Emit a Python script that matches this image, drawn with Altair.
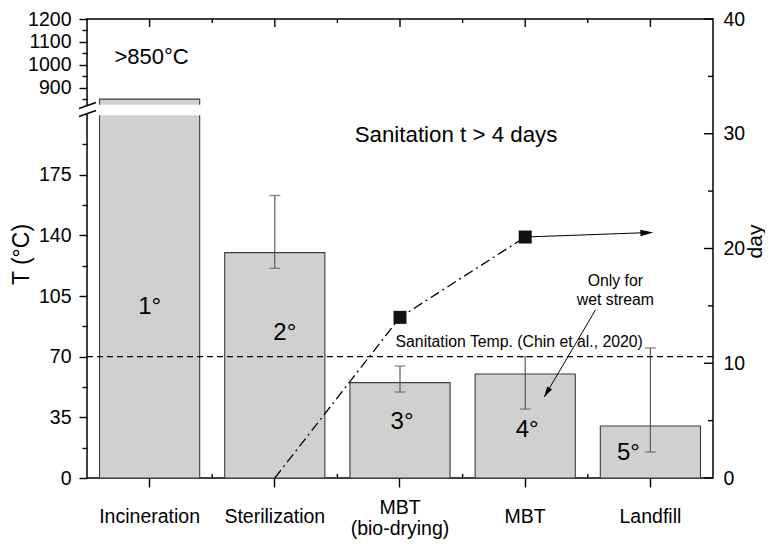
import altair as alt
import pandas as pd

# ---------------- data ----------------
categories = ["Incineration", "Sterilization", "MBT (bio-drying)", "MBT", "Landfill"]
temperature = [850, 130, 55, 60, 30]
err_cats = ["Sterilization", "MBT (bio-drying)", "MBT", "Landfill"]
err_low = [121, 49.6, 39.8, 15]
err_high = [163, 64.6, 70, 75]
rank_labels = ["1°", "2°", "3°", "4°", "5°"]

day_cats = ["Sterilization", "MBT (bio-drying)", "MBT"]
days = [0, 14, 21]
square_cats = ["MBT (bio-drying)", "MBT"]
square_days = [14, 21]
arrow_cats = ["MBT", "Landfill"]
arrow_days = [21, 21.4]

sanitation_temp = 70
break_low, break_high = 210, 820

left_ticks = [0, 17.5, 35, 52.5, 70, 87.5, 105, 122.5, 140, 157.5, 175, 192.5,
              850, 900, 950, 1000, 1050, 1100, 1150, 1200]
day_ticks_major = [0, 10, 20, 30, 40]
day_ticks_minor = [5, 15, 25, 35]

# ---------------- layout ----------------
W, H = 626, 459
FONT = "Liberation Sans"
STEP = W / len(categories)

tscale = alt.Scale(domain=[0, break_low, break_high, 1200], range=[H, 95, 87, 0])
dscale = alt.Scale(domain=[0, 40])
xscale = alt.Scale(domain=categories, paddingInner=0.2, paddingOuter=0.1)

major_test = "(datum.value <= 175 && datum.value % 35 == 0) || (datum.value >= 900 && datum.value % 100 == 0)"

x_axis = alt.Axis(
    title=None, domain=False, grid=False, tickSize=9, tickWidth=1.4, tickColor="black",
    labelFontSize=19.5, labelColor="black", labelAngle=0, labelBaseline="middle",
    labelPadding={"condition": {"test": "datum.value == 'MBT (bio-drying)'", "value": 20}, "value": 29},
    labelLineHeight=21,
    labelExpr="datum.value == 'MBT (bio-drying)' ? ['MBT', '(bio-drying)'] : datum.label",
)

left_axis = alt.Axis(
    title="T (°C)", titleFontSize=23, titleFontWeight="normal", titleColor="black",
    titleX=-66, titleY=235, titleAngle=270, titleBaseline="middle",
    values=left_ticks, domain=False, grid=False, tickColor="black", tickWidth=1.4,
    tickSize={"condition": {"test": major_test, "value": 8}, "value": 5},
    labelExpr=major_test + " ? datum.label : ''", format="d",
    labelFontSize=19.5, labelColor="black", labelPadding=8,
)

right_axis = alt.Axis(
    title="day", titleFontSize=21, titleFontWeight="normal", titleColor="black",
    titleAngle=270, titleX=42, titleY=222, titleBaseline="middle",
    values=day_ticks_major, ticks=False, domain=False, grid=False,
    labelFontSize=19.5, labelColor="black", labelPadding=10, orient="right", format="d",
)


def X(field="cat:N"):
    return alt.X(field, scale=xscale, axis=x_axis, sort=categories)


def YT(field):
    return alt.Y(field, scale=tscale, axis=left_axis)


def YD(field):
    return alt.Y(field, scale=dscale, axis=right_axis)


bars_df = pd.DataFrame({"cat": categories, "t": temperature, "lab": rank_labels})
err_df = pd.DataFrame({"cat": err_cats, "lo": err_low, "hi": err_high})

bars = alt.Chart(bars_df).mark_bar(fill="#d0d0d0", stroke="#3c3c3c", strokeWidth=1.1).encode(
    x=X(), y=YT("t:Q"))

gap_df = pd.DataFrame({"cat": ["Incineration"], "lo": [break_low], "hi": [break_high]})
gap_bar = alt.Chart(gap_df).mark_bar(fill="white", stroke="white", strokeWidth=2.5).encode(
    x=X(), y=YT("lo:Q"), y2="hi:Q")
gap_axis = alt.Chart(gap_df).mark_rect(fill="white").encode(
    x=alt.value(-4), x2=alt.value(4), y=YT("lo:Q"), y2="hi:Q")
slash1 = alt.Chart(gap_df).mark_rule(color="black", strokeWidth=1.4).encode(
    x=alt.value(-8), x2=alt.value(9), y=alt.value(89.5), y2=alt.value(83.5))
slash2 = alt.Chart(gap_df).mark_rule(color="black", strokeWidth=1.4).encode(
    x=alt.value(-8), x2=alt.value(9), y=alt.value(97.5), y2=alt.value(91.5))

err_rule = alt.Chart(err_df).mark_rule(color="#5a5a5a", strokeWidth=1.2).encode(
    x=X(), y=YT("lo:Q"), y2="hi:Q")
cap_lo = alt.Chart(err_df).mark_tick(orient="horizontal", size=11, thickness=1.3, color="#5a5a5a").encode(
    x=X(), y=YT("lo:Q"))
cap_hi = alt.Chart(err_df).mark_tick(orient="horizontal", size=11, thickness=1.3, color="#5a5a5a").encode(
    x=X(), y=YT("hi:Q"))

san_df = pd.DataFrame({"t": [sanitation_temp]})
san_rule = alt.Chart(san_df).mark_rule(color="black", strokeWidth=1.3, strokeDash=[6, 4]).encode(
    y=YT("t:Q"))

# annotation texts: (text, category, temperature position, dx, font size)
annotations = [
    (">850°C", "Incineration", 1035, 2, 22),
    ("1°", "Incineration", 98.6, 0, 24),
    ("2°", "Sterilization", 83.6, 10, 24),
    ("3°", "MBT (bio-drying)", 32.3, 2, 24),
    ("4°", "MBT", 27.7, 2, 24),
    ("5°", "Landfill", 14.5, -22, 24),
    ("Sanitation t > 4 days", "MBT (bio-drying)", 198, 56, 22.3),
    ("Sanitation Temp. (Chin et al., 2020)", "MBT", 78.4, -6, 15.8),
    ("Only for\nwet stream", "Landfill", 113.5, -35, 15.8),
]
text_layers = []
for txt, c, tv, dx, fs in annotations:
    d = pd.DataFrame({"cat": [c], "t": [tv], "txt": [txt]})
    text_layers.append(
        alt.Chart(d).mark_text(fontSize=fs, dx=dx, color="black", lineBreak="\n",
                               lineHeight=19, baseline="middle", align="center").encode(
            x=X(), y=YT("t:Q"), text="txt:N"))

# arrow for "Only for wet stream"
wet_df = pd.DataFrame({"cat": ["Landfill"], "cat2": ["MBT"], "t": [96.9], "t2": [46.7]})
wet_line = alt.Chart(wet_df).mark_rule(color="black", strokeWidth=1, xOffset=-55, x2Offset=19).encode(
    x=X(), x2="cat2:N", y=YT("t:Q"), y2="t2:Q")
wet_head = alt.Chart(wet_df).mark_point(shape="M0,0L-2,-0.55L-2,0.55Z", size=110, filled=True,
                                        color="black", opacity=1, angle=120.9, xOffset=19).encode(
    x=X("cat2:N"), y=YT("t2:Q"))

# frame ticks on top and bottom (category centres and boundaries)
frame_df = pd.DataFrame({"cat": categories})
bnd_df = pd.DataFrame({"cat": categories[:-1]})
top_major = alt.Chart(frame_df).mark_rule(color="black", strokeWidth=1.4).encode(
    x=X(), y=alt.value(0), y2=alt.value(8))
top_minor = alt.Chart(bnd_df).mark_rule(color="black", strokeWidth=1.4, xOffset=STEP / 2).encode(
    x=X(), y=alt.value(0), y2=alt.value(4))
bot_minor = alt.Chart(bnd_df).mark_rule(color="black", strokeWidth=1.4, xOffset=STEP / 2).encode(
    x=X(), y=alt.value(H - 4), y2=alt.value(H))

left = alt.layer(bars, gap_bar, gap_axis, slash1, slash2, err_rule, cap_lo, cap_hi, san_rule,
                 *text_layers, wet_line, wet_head, top_major, top_minor, bot_minor)

# ---------------- day (right axis) ----------------
day_df = pd.DataFrame({"cat": day_cats, "d": days})
day_line = alt.Chart(day_df).mark_line(color="black", strokeWidth=1.3, strokeDash=[10, 4, 2, 4]).encode(
    x=X(), y=YD("d:Q"))
sq_df = pd.DataFrame({"cat": square_cats, "d": square_days})
squares = alt.Chart(sq_df).mark_square(size=169, color="#111111", opacity=1).encode(
    x=X(), y=YD("d:Q"))
arr_df = pd.DataFrame({"cat": arrow_cats, "d": arrow_days})
arr_line = alt.Chart(arr_df).mark_line(color="black", strokeWidth=1.1).encode(
    x=X(), y=YD("d:Q"))
arr_head = alt.Chart(arr_df.tail(1)).mark_point(shape="M0,0L-2,-0.5L-2,0.5Z", size=169, filled=True,
                                                color="black", opacity=1, angle=357.5, xOffset=3).encode(
    x=X(), y=YD("d:Q"))

dmaj_df = pd.DataFrame({"d": day_ticks_major})
dmin_df = pd.DataFrame({"d": day_ticks_minor})
dmaj = alt.Chart(dmaj_df).mark_rule(color="black", strokeWidth=1.4).encode(
    x=alt.value(W - 9), x2=alt.value(W), y=YD("d:Q"))
dmin = alt.Chart(dmin_df).mark_rule(color="black", strokeWidth=1.4).encode(
    x=alt.value(W - 5), x2=alt.value(W), y=YD("d:Q"))

right = alt.layer(day_line, arr_line, squares, arr_head, dmaj, dmin)

chart = alt.layer(left, right).resolve_scale(y="independent").properties(
    width=W, height=H,
    autosize=alt.AutoSizeParams(type="none"),
    padding={"left": 79, "top": 11, "right": 52, "bottom": 61},
).configure(font=FONT).configure_view(stroke="black", strokeWidth=1.5)

chart.save("out.html", embed_options={"renderer": "svg", "actions": False})
